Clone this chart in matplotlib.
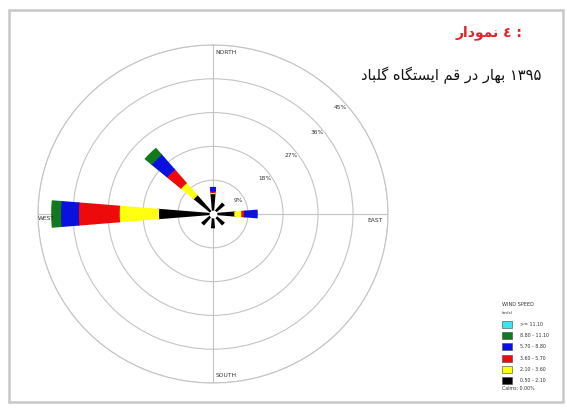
import numpy as np
import matplotlib
matplotlib.use("Agg")
import matplotlib.pyplot as plt
from matplotlib.patches import Rectangle

# wind directions (degrees, 16 sectors)
directions = np.arange(0, 360, 22.5)

# frequency (%) per speed class, one value per direction (N, NNE, NE, ... NNW)
spd_0_5 = [5.5, 0, 3.6, 0, 5.7, 0, 3.6, 0, 3.6, 0, 3.6, 0, 14.1, 0, 6.5, 0]
spd_2_1 = [0.3, 0, 0, 0, 1.8, 0, 0, 0, 0, 0, 0, 0, 10.1, 0, 4.3, 0]
spd_3_6 = [0.4, 0, 0, 0, 0.7, 0, 0, 0, 0, 0, 0, 0, 10.5, 0, 4.7, 0]
spd_5_7 = [0.8, 0, 0, 0, 3.1, 0, 0, 0, 0, 0, 0, 0, 4.6, 0, 5.2, 0]
spd_8_8 = [0, 0, 0, 0, 0, 0, 0, 0, 0, 0, 0, 0, 2.1, 0, 2.0, 0]
spd_11_1 = [0] * 16

speed_labels = [">= 11.10", "8.80 - 11.10", "5.70 - 8.80",
                "3.60 - 5.70", "2.10 - 3.60", "0.50 - 2.10"]
speed_colors = ["#33e6f0", "#107a1c", "#0a10e0", "#ee0a0a", "#ffff10", "#000000"]
calms = "Calms: 0.00%"

rings = [9, 18, 27, 36, 45]
compass = ["NORTH", "EAST", "SOUTH", "WEST"]

title = "نمودار ٤ :"
subtitle = "گلباد ایستگاه قم در بهار ۱۳۹۵"

# --- tiny arabic shaping (matplotlib has none) ---
FORMS = {
    "ا": ("\uFE8D", "\uFE8E", None, None),
    "ب": ("\uFE8F", "\uFE90", "\uFE91", "\uFE92"),
    "ت": ("\uFE95", "\uFE96", "\uFE97", "\uFE98"),
    "د": ("\uFEA9", "\uFEAA", None, None),
    "ر": ("\uFEAD", "\uFEAE", None, None),
    "س": ("\uFEB1", "\uFEB2", "\uFEB3", "\uFEB4"),
    "ق": ("\uFED5", "\uFED6", "\uFED7", "\uFED8"),
    "ل": ("\uFEDD", "\uFEDE", "\uFEDF", "\uFEE0"),
    "م": ("\uFEE1", "\uFEE2", "\uFEE3", "\uFEE4"),
    "ن": ("\uFEE5", "\uFEE6", "\uFEE7", "\uFEE8"),
    "ه": ("\uFEE9", "\uFEEA", "\uFEEB", "\uFEEC"),
    "و": ("\uFEED", "\uFEEE", None, None),
    "ک": ("\uFB8E", "\uFB8F", "\uFB90", "\uFB91"),
    "گ": ("\uFB92", "\uFB93", "\uFB94", "\uFB95"),
    "ی": ("\uFBFC", "\uFBFD", "\uFBFE", "\uFBFF"),
}


def shape_word(w):
    if not any(c in FORMS for c in w):
        return w
    out = []
    for i, c in enumerate(w):
        if c not in FORMS:
            out.append(c)
            continue
        iso, fin, ini, med = FORMS[c]
        prev = w[i - 1] if i > 0 else None
        nxt = w[i + 1] if i + 1 < len(w) else None
        jp = prev in FORMS and FORMS[prev][2] is not None
        jn = nxt in FORMS and ini is not None
        if jp and jn:
            out.append(med)
        elif jp:
            out.append(fin)
        elif jn:
            out.append(ini)
        else:
            out.append(iso)
    return "".join(reversed(out))


def shape(s):
    return " ".join(shape_word(w) for w in s.split(" "))


W, H = 567, 408
fig = plt.figure(figsize=(W / 100, H / 100), dpi=100)
fig.patch.set_facecolor("white")

# outer frame
fig.add_artist(Rectangle((9 / W, 1 - 402 / H), 554 / W, 392 / H,
                         transform=fig.transFigure, fill=False,
                         edgecolor="#c8c8c8", lw=1.8))

ax = fig.add_axes([38 / W, 25 / H, 350 / W, 338 / H], projection="polar")
ax.set_aspect("auto")
ax.set_theta_zero_location("N")
ax.set_theta_direction(-1)
ax.set_ylim(0, 45)
ax.set_yticks(rings)
ax.set_yticklabels([])
ax.set_xticks(np.deg2rad([0, 90, 180, 270]))
ax.set_xticklabels([])
ax.grid(True, color="#c4c4c4", lw=0.8)
ax.spines["polar"].set_color("#c4c4c4")
ax.spines["polar"].set_linewidth(0.8)

# stacked petals, calm speeds in the middle
classes = [spd_0_5, spd_2_1, spd_3_6, spd_5_7, spd_8_8, spd_11_1]
colors = speed_colors[::-1]
theta = np.deg2rad(directions)
bottom = np.zeros(len(directions))
for vals, col in zip(classes, colors):
    vals = np.array(vals, dtype=float)
    keep = vals > 0
    if keep.any():
        ax.bar(theta[keep], vals[keep], width=np.deg2rad(9.5), bottom=bottom[keep],
               color=col, edgecolor=col, lw=1.2, zorder=3)
    bottom += vals
ax.scatter([0], [0], s=22, color="white", zorder=5)

# ring labels
ring_az = [62, 55, 52, 51, 49]
for r, az in zip(rings, ring_az):
    ax.text(np.deg2rad(az), r - 1.6, f"{r}%", fontsize=4.2, color="#333333",
            ha="center", va="center", zorder=4)

# compass labels
ax.annotate(compass[0], (0, 43.1), xytext=(2, 0), textcoords="offset points",
            fontsize=4.3, ha="left", va="center", color="#333333")
ax.annotate(compass[2], (np.pi, 43.1), xytext=(2, 0), textcoords="offset points",
            fontsize=4.3, ha="left", va="center", color="#333333")
ax.annotate(compass[1], (np.pi / 2, 39.8), xytext=(0, -5), textcoords="offset points",
            fontsize=4.3, ha="left", va="center", color="#333333")
ax.annotate(compass[3], (3 * np.pi / 2, 45), xytext=(0, -3.5), textcoords="offset points",
            fontsize=4.3, ha="left", va="center", color="#333333")

# titles
fig.text(522 / W, 1 - 33 / H, shape(title), fontsize=10, fontweight="bold",
         color="#e8202a", ha="right", va="center", family="DejaVu Sans")
fig.text(541 / W, 1 - 75 / H, shape(subtitle), fontsize=10.5, color="#111111",
         ha="right", va="center", family="DejaVu Sans")

# legend
fig.text(502 / W, 1 - 305 / H, "WIND SPEED", fontsize=3.6, va="center", color="#333333")
fig.text(502 / W, 1 - 313 / H, "(m/s)", fontsize=3.2, va="center", color="#333333")
for i, (lab, col) in enumerate(zip(speed_labels, speed_colors)):
    y = 321 + i * 11.2
    fig.add_artist(Rectangle((502 / W, 1 - (y + 7) / H), 10 / W, 7 / H,
                             transform=fig.transFigure, facecolor=col,
                             edgecolor="#444444", lw=0.4))
    fig.text(520 / W, 1 - (y + 3.5) / H, lab, fontsize=3.4, va="center", color="#333333")
fig.text(502 / W, 1 - 388 / H, calms, fontsize=3.4, va="center", color="#333333")

fig.savefig("out.png", dpi=100)
